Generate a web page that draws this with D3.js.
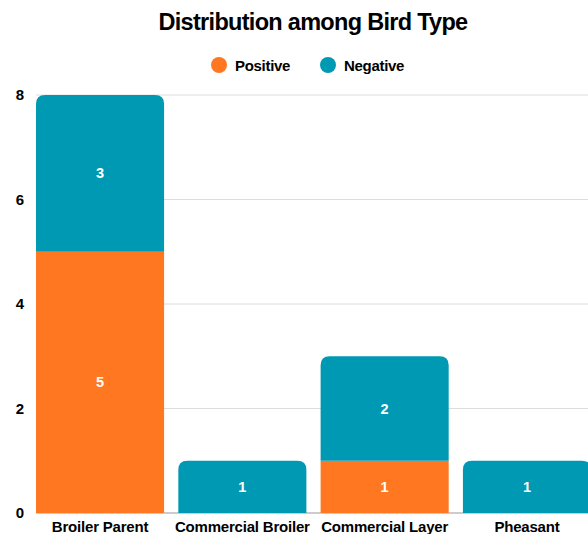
<!DOCTYPE html>
<html><head><meta charset="utf-8">
<script src="https://cdn.jsdelivr.net/npm/d3@7"></script>
<style>
html,body{margin:0;padding:0;background:#fff;}
svg{display:block;font-family:"Liberation Sans",Arial,sans-serif;}
</style></head>
<body><svg id="c" width="588" height="534"></svg>
<script>
const categories = ["Broiler Parent","Commercial Broiler","Commercial Layer","Pheasant"];
const seriesNames = ["Positive","Negative"];
const positive = [5, 0, 1, 0];
const negative = [3, 1, 2, 1];
const yTicks = [0, 2, 4, 6, 8];
const colors = {Positive:"#ff7721", Negative:"#0099b3"};

const svg = d3.select("#c");
const W = 588;
const x = d3.scaleBand().domain(categories).range([28.9, 598.1]).paddingInner(0.1).paddingOuter(0.05);
const y = d3.scaleLinear().domain([0, 8]).range([513, 95]);

// title
svg.append("text").attr("x", 313).attr("y", 29.5).attr("text-anchor","middle")
  .attr("font-size", 23.5).attr("font-weight", "bold").attr("letter-spacing", -0.7)
  .attr("fill","#000").text("Distribution among Bird Type");

// legend
const leg = [{n:"Positive", cx:219}, {n:"Negative", cx:328}];
leg.forEach(l => {
  svg.append("circle").attr("cx", l.cx).attr("cy", 65).attr("r", 8).attr("fill", colors[l.n]);
  svg.append("text").attr("x", l.cx + 16).attr("y", 70.5).attr("font-size", 15)
    .attr("font-weight","bold").attr("letter-spacing",-0.3).attr("fill","#000").text(l.n);
});

// grid
svg.append("g").selectAll("line").data(yTicks).join("line")
  .attr("x1", 36).attr("x2", W).attr("y1", d => y(d)).attr("y2", d => y(d))
  .attr("stroke", d => d === 0 ? "#999" : "#dcdcdc").attr("stroke-width", 1);

// y axis labels
const yAxis = d3.axisLeft(y).tickValues(yTicks).tickSize(0).tickPadding(0);
const gy = svg.append("g").attr("transform", "translate(24,0)").call(yAxis);
gy.select(".domain").remove();
gy.selectAll("text").attr("font-size", 15).attr("font-weight","bold").attr("fill","#000")
  .attr("font-family",'"Liberation Sans",Arial,sans-serif').attr("dy","0.32em");

// x axis labels
const xAxis = d3.axisBottom(x).tickSize(0).tickPadding(0);
const gx = svg.append("g").attr("transform", "translate(0,521)").call(xAxis);
gx.select(".domain").remove();
gx.selectAll("text").attr("font-size", 15).attr("font-weight","bold").attr("fill","#000")
  .attr("letter-spacing", -0.2).attr("font-family",'"Liberation Sans",Arial,sans-serif').attr("dy","0.71em");

// stacked bars
const table = categories.map((c, i) => ({cat: c, Positive: positive[i], Negative: negative[i]}));
const stack = d3.stack().keys(seriesNames)(table);
const r = 9;
function segPath(x0, w, yTop, yBot, rounded) {
  if (!rounded) return `M${x0},${yBot}V${yTop}H${x0+w}V${yBot}Z`;
  return `M${x0},${yBot}V${yTop + r}Q${x0},${yTop} ${x0 + r},${yTop}H${x0 + w - r}Q${x0 + w},${yTop} ${x0 + w},${yTop + r}V${yBot}Z`;
}
stack.forEach((layer, li) => {
  layer.forEach((d, i) => {
    const v = d[1] - d[0];
    if (v <= 0) return;
    const isTop = d[1] === positive[i] + negative[i];
    const x0 = x(categories[i]), w = x.bandwidth();
    svg.append("path").attr("d", segPath(x0, w, y(d[1]), y(d[0]), isTop)).attr("fill", colors[layer.key]);
    svg.append("text").attr("x", x0 + w/2).attr("y", (y(d[0]) + y(d[1]))/2).attr("dy","0.35em")
      .attr("text-anchor","middle").attr("font-size", 14.5).attr("font-weight","bold")
      .attr("fill","#fff").text(v);
  });
});
</script></body></html>
